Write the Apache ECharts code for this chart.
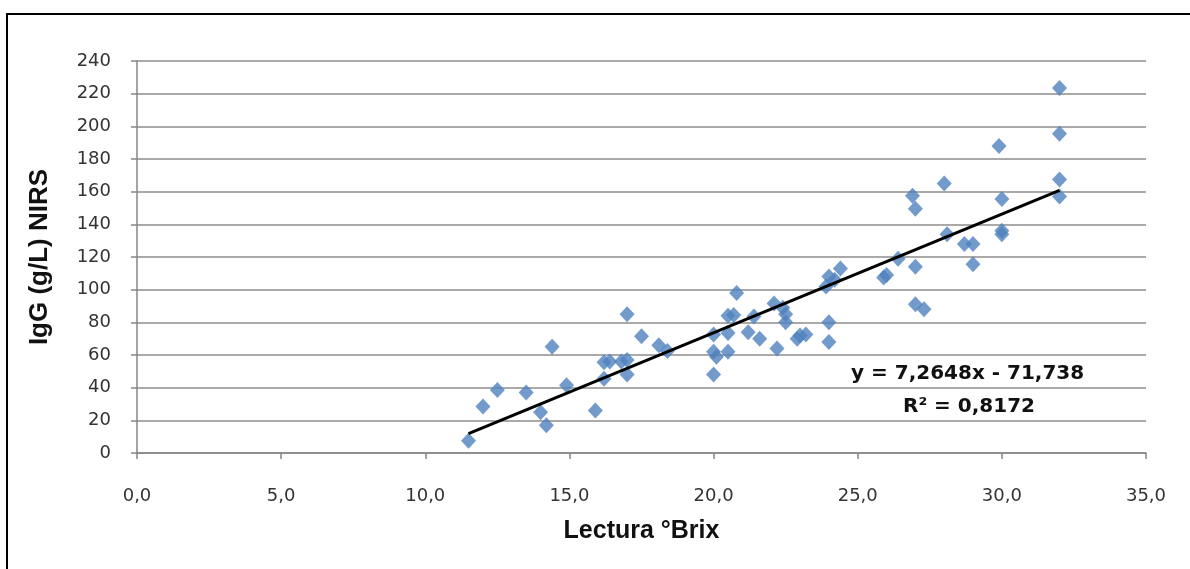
<!DOCTYPE html>
<html>
<head>
<meta charset="utf-8">
<script src="https://cdn.jsdelivr.net/npm/echarts@6/dist/echarts.min.js"></script>
<style>
html,body{margin:0;padding:0;background:#fff;}
#c{width:1190px;height:569px;}
</style>
</head>
<body>
<div id="c"></div>
<script>
// Lectura °Brix (x) and IgG (g/L) NIRS (y)
const brix = [11.5,12.0,12.5,13.5,14.0,14.2,14.4,14.9,15.9,16.2,16.2,16.4,16.8,17.0,17.0,17.0,17.5,18.1,18.4,
  20.0,20.5,20.0,20.1,20.5,20.0,20.8,20.5,20.7,21.4,21.2,21.6,22.1,22.4,22.5,22.5,22.2,22.9,23.0,23.2,
  24.0,24.0,23.9,24.0,24.2,24.4,25.9,26.0,26.4,26.9,27.0,27.0,27.0,27.3,28.0,28.1,28.7,29.0,29.0,
  29.9,30.0,30.0,30.0,32.0,32.0,32.0,32.0];
const igg = [7.5,28.5,38.5,37,25,17,65,41.5,26,45.5,55.5,56,56,85,57,48,71.5,66,62.5,
  72.5,73.5,62,59,62,48,98,84,84.5,83.5,74,70,91.5,89,85,80,64,70,72,72.5,
  80,68,102,108,106,113,107.5,109,119,157.5,149.5,114,91,88,165,134,128,128,115.5,
  188,155.5,136,134,223.5,195.5,167.5,157];
// trendline as displayed on the chart
const slope = 7.2648, intercept = -71.738;
const trendX = [Math.min(...brix), Math.max(...brix)];
const eqText = 'y = 7,2648x - 71,738';
const r2Text = 'R² = 0,8172';
const xTitle = 'Lectura °Brix';
const yTitle = 'IgG (g/L) NIRS';

const points = brix.map((x,i)=>[x, igg[i]]);
const trend = trendX.map(x=>[x, slope*x+intercept]);
const comma = v => v.toFixed(1).replace('.', ',');

const chart = echarts.init(document.getElementById('c'));
chart.setOption({
  animation:false,
  backgroundColor:'#fff',
  grid:{left:137,right:44,top:61,bottom:116},
  xAxis:{
    type:'value',min:0,max:35,interval:5,
    name:xTitle,nameLocation:'middle',nameGap:66,
    nameTextStyle:{fontFamily:'Liberation Sans Narrow, Liberation Sans, sans-serif',fontWeight:'bold',fontSize:25,color:'#111'},
    axisLine:{show:true,lineStyle:{color:'#868686',width:1.5}},
    axisTick:{show:true,inside:false,length:6,lineStyle:{color:'#868686',width:1.5}},
    axisLabel:{formatter:comma,margin:34,fontFamily:'DejaVu Sans',fontSize:18,color:'#333'},
    splitLine:{show:false}
  },
  yAxis:{
    type:'value',min:0,max:240,interval:20,
    name:yTitle,nameLocation:'middle',nameGap:84,nameRotate:90,
    nameTextStyle:{fontFamily:'Liberation Sans Narrow, Liberation Sans, sans-serif',fontWeight:'bold',fontSize:26,color:'#111'},
    axisLine:{show:true,lineStyle:{color:'#868686',width:1.5}},
    axisTick:{show:true,inside:false,length:6,lineStyle:{color:'#868686',width:1.5}},
    axisLabel:{margin:26,fontFamily:'DejaVu Sans',fontSize:18,color:'#333'},
    splitLine:{show:true,lineStyle:{color:'#8c8c8c',width:1.5}}
  },
  series:[
    {type:'scatter',data:points,symbol:'diamond',symbolSize:[15,16],
     itemStyle:{color:'#4f81bd'},z:2},
    {type:'line',data:trend,symbol:'none',lineStyle:{color:'#000',width:3},z:3}
  ],
  graphic:[
    {type:'rect',shape:{x:7,y:14,width:1300,height:700},style:{fill:'none',stroke:'#000',lineWidth:2},silent:true},
    {type:'text',left:851,top:364,style:{text:eqText,fontFamily:'DejaVu Sans',fontWeight:'bold',fontSize:20,fill:'#111'}},
    {type:'text',left:903,top:397,style:{text:r2Text,fontFamily:'DejaVu Sans',fontWeight:'bold',fontSize:20,fill:'#111'}}
  ]
});
</script>
</body>
</html>
